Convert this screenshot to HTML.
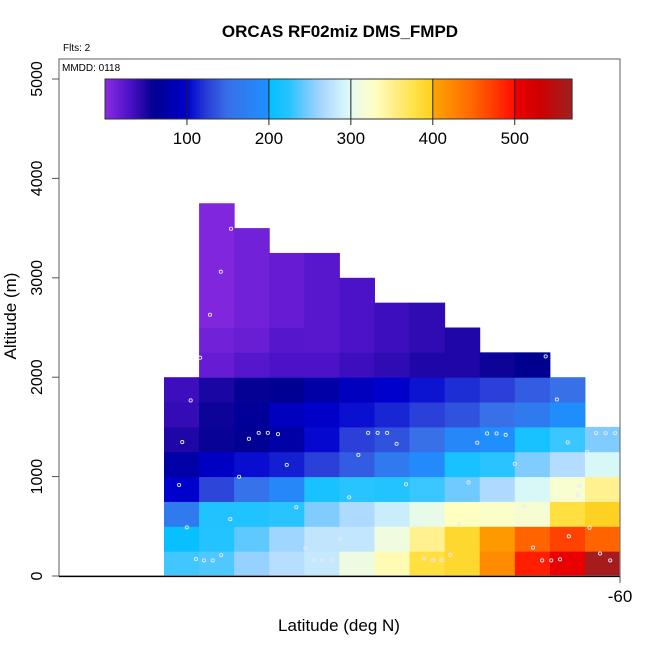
<!DOCTYPE html>
<html><head><meta charset="utf-8">
<style>
html,body{margin:0;padding:0;background:#fff;}
svg{display:block;font-family:"Liberation Sans",Arial,sans-serif;}
</style></head>
<body>
<svg id="chart" width="650" height="650" viewBox="0 0 650 650">
<text x="340" y="37" text-anchor="middle" font-size="17" font-weight="bold">ORCAS RF02miz DMS_FMPD</text>
<text x="63" y="51" font-size="10">Flts: 2</text>
<g id="cells"></g>
<g id="points"></g>
<rect x="59" y="59" width="561" height="517" fill="none" stroke="#777" stroke-width="1.2"/>
<line x1="59" y1="576.5" x2="620" y2="576.5" stroke="#000" stroke-width="1.3"/>
<text x="62" y="71" font-size="10">MMDD: 0118</text>
<g id="yaxis"></g>
<g id="xaxis"></g>
<g id="cbar"></g>
<text x="339" y="631" text-anchor="middle" font-size="17">Latitude (deg N)</text>
<text x="0" y="0" transform="translate(16,316) rotate(-90)" text-anchor="middle" font-size="17">Altitude (m)</text>
</svg>
<script>
// column lower-edge latitudes (deg N)
const colLats = [-73,-72,-71,-70,-69,-68,-67,-66,-65,-64,-63,-62,-61];
// altitude bin lower edges (m), 250 m bins
const altBins = [0,250,500,750,1000,1250,1500,1750,2000,2250,2500,2750,3000,3250,3500];
// DMS values per column, from bottom bin upward (null = no data)
const col0 = [232,205,165,100,75,48,40,36];
const col1 = [236,222,220,128,95,57,55,50,18,12,5,5,5,5,5];
const col2 = [258,240,220,155,105,62,65,58,25,16,12,12,12,12];
const col3 = [272,262,225,185,112,75,90,62,30,25,18,18,18];
const col4 = [282,278,250,215,125,103,98,75,30,24,24,24,24];
const col5 = [308,280,268,225,140,125,106,90,36,30,30,30];
const col6 = [335,310,285,222,165,135,115,100,42,36,36];
const col7 = [380,350,305,230,190,150,125,108,48,42,42];
const col8 = [390,390,330,245,215,185,135,118,48,48];
const col9 = [420,410,325,268,225,198,150,125,55];
const col10 = [490,450,318,295,250,215,165,140,60];
const col11 = [505,470,380,320,270,230,195,150];
const col12 = [565,450,398,350,295,250];
const columns = [col0,col1,col2,col3,col4,col5,col6,col7,col8,col9,col10,col11,col12];
// flight track points
const ptLat = [-72.24,-72.48,-72.57,-72.35,-72.09,-71.86,-71.61,-71.37,-71.11,-70.86,-70.58,-70.30,-70.04,-69.75,-69.50,-69.23,-68.97,-68.73,-68.49,-68.23,-67.97,-67.72,-67.46,-67.18,-66.91,-66.64,-66.37,-66.10,-65.84,-65.59,-65.33,-65.09,-64.84,-64.59,-64.32,-64.07,-63.79,-63.52,-63.26,-63.0,-62.73,-62.48,-62.22,-61.96,-61.71,-61.46,-61.20,-61.17,-60.94,-61.8,-61.49,-60.87,-60.68,-60.41,-60.14,-60.57,-60.28,-60.0,-71.09,-71.38,-71.69,-71.97,-62.12];
const ptAlt = [1766,1347,915,489,170,157,157,210,572,998,1380,1440,1440,1427,1118,692,279,157,157,163,373,792,1218,1440,1440,1440,1330,922,499,176,160,160,213,519,941,1341,1434,1434,1420,1128,702,286,157,157,167,399,818,908,1248,1776,1344,486,1437,1437,1437,226,157,157,3493,3061,2628,2196,2209];
// colorbar
const cbTicks = [100,200,300,400,500];
const yTicks = [0,1000,2000,3000,4000,5000];
const xTicks = [-60];

const NS='http://www.w3.org/2000/svg';
const X0=164, XW=35.08, LAT0=-73;
const xs = lat => X0 + (lat-LAT0)*XW;
const ys = alt => 576 - alt*0.0994;
const cbx = v => 105 + v*0.8195;

const stops = [[0,'#8a2be2'],[30,'#4c12c8'],[60,'#000090'],[100,'#0000cd'],[125,'#2a40d8'],[150,'#3870e8'],[199,'#1e90ff'],[200,'#00bfff'],[225,'#28c4ff'],[250,'#80ccff'],[270,'#b4dcff'],[295,'#d8f8f8'],[310,'#f0fce0'],[330,'#ffffc0'],[350,'#fff090'],[380,'#ffe040'],[399,'#ffd020'],[400,'#ffa500'],[420,'#ff8c00'],[450,'#ff6400'],[499,'#ff1000'],[500,'#ee0000'],[530,'#cd0000'],[570,'#a02020']];
function hx(c){return [1,3,5].map(i=>parseInt(c.substr(i,2),16));}
function cmap(v){
  if(v<=stops[0][0]) return stops[0][1];
  for(let i=1;i<stops.length;i++){
    if(v<=stops[i][0]){
      const [a,ca]=stops[i-1],[b,cb]=stops[i];
      const t=(v-a)/(b-a), A=hx(ca), B=hx(cb);
      return 'rgb('+A.map((x,k)=>Math.round(x+(B[k]-x)*t)).join(',')+')';
    }
  }
  return stops[stops.length-1][1];
}
function mk(tag,attrs,parent){const e=document.createElementNS(NS,tag);for(const k in attrs)e.setAttribute(k,attrs[k]);parent.appendChild(e);return e;}

const gC=document.getElementById('cells');
columns.forEach((col,ci)=>{
  col.forEach((v,ri)=>{
    if(v==null) return;
    const x1=xs(colLats[ci]), x2=Math.min(xs(colLats[ci]+1),620);
    const y1=ys(altBins[ri]+250), y2=ys(altBins[ri]);
    const r=mk('rect',{x:x1,y:y1,width:x2-x1+0.5,height:y2-y1+0.5,fill:cmap(v)},gC);
    
    
  });
});
const gP=document.getElementById('points');
ptLat.forEach((lat,i)=>{
  const x=xs(lat); if(x>620) return;
  const c=mk('circle',{cx:x,cy:ys(ptAlt[i]),r:1.6,fill:'none',stroke:'#e8e8ff','stroke-width':0.9},gP);
  
  
});
const gY=document.getElementById('yaxis');
yTicks.forEach(t=>{
  const y=ys(t);
  const l=mk('line',{x1:52,x2:59,y1:y,y2:y,stroke:'#555'},gY);
  
  
  const tx=mk('text',{transform:'translate(42,'+y+') rotate(-90)','text-anchor':'middle','font-size':'16'},gY);
  tx.textContent=t;
  
  
});
const gX=document.getElementById('xaxis');
xTicks.forEach(t=>{
  const x=xs(t);
  const l=mk('line',{x1:x,x2:x,y1:576,y2:583,stroke:'#555'},gX);
  
  
  const tx=mk('text',{x:x,y:602,'text-anchor':'middle','font-size':'17'},gX);
  tx.textContent=t;
  
  
});
const gB=document.getElementById('cbar');
for(let v=0;v<570;v+=2){
  const r=mk('rect',{x:cbx(v),y:79,width:0.8195*2+0.4,height:40,fill:cmap(v+1)},gB);
  
  
}
const fr=mk('rect',{x:105,y:79,width:cbx(570)-105,height:40,fill:'none',stroke:'#333','stroke-width':1},gB);


cbTicks.forEach(t=>{
  const x=cbx(t);
  const l=mk('line',{x1:x,x2:x,y1:79,y2:125,stroke:'#222','stroke-width':1},gB);
  
  
  const tx=mk('text',{x:x,y:144,'text-anchor':'middle','font-size':'17'},gB);
  tx.textContent=t;
  
  
});
</script>
</body></html>
